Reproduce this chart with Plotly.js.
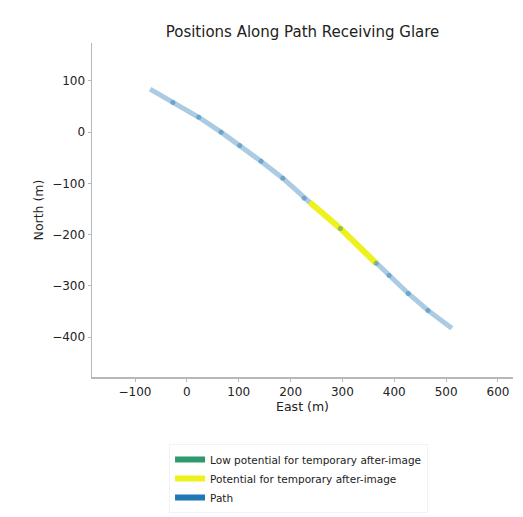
<!DOCTYPE html>
<html>
<head>
<meta charset="utf-8">
<script src="https://cdn.plot.ly/plotly-3.0.1.min.js"></script>
<style>html,body{margin:0;padding:0;background:#fff;}#chart{width:523px;height:517px;}</style>
</head>
<body>
<div id="chart"></div>
<script>
// Path vertices (East, North) in metres
const pathEast  = [-71, -27, 23, 66, 102, 143, 185, 226, 237, 296, 365, 390, 427, 465, 511];
const pathNorth = [84, 58, 29, 0, -26, -57, -90, -129, -137, -188, -256, -280, -315, -348, -383];
// Vertices where segment joints show
const jointEast  = [-27, 23, 66, 102, 143, 185, 226, 296, 365, 390, 427, 465];
const jointNorth = [58, 29, 0, -26, -57, -90, -129, -188, -256, -280, -315, -348];
// Glare segment: potential for temporary after-image
const glareEast  = [237, 296, 365];
const glareNorth = [-137, -188, -256];
// Glare segment: low potential (none)
const lowEast  = [null];
const lowNorth = [null];

const legendNames = ["Low potential for temporary after-image", "Potential for temporary after-image", "Path"];

const FONT = "DejaVu Sans, sans-serif";

const traces = [
  {x: pathEast, y: pathNorth, mode: "lines", line: {color: "rgba(31,119,180,0.38)", width: 5}, showlegend: false, hoverinfo: "skip"},
  {x: lowEast, y: lowNorth, mode: "lines", name: legendNames[0], line: {color: "#2e9a6c", width: 6}, legendrank: 1},
  {x: glareEast, y: glareNorth, mode: "lines", name: legendNames[1], line: {color: "#eef21c", width: 6}, legendrank: 2},
  {x: jointEast, y: jointNorth, mode: "markers", marker: {color: "rgba(31,119,180,0.45)", size: 5}, showlegend: false, hoverinfo: "skip"},
  {x: [null], y: [null], mode: "lines", name: legendNames[2], line: {color: "#1f77b4", width: 6}, legendrank: 3}
];

const axisCommon = {
  showgrid: false, zeroline: false, showline: true, linecolor: "#b8b8b8", linewidth: 1.5,
  ticks: "outside", ticklen: 3, tickcolor: "#b8b8b8", tickwidth: 1,
  tickfont: {family: FONT, size: 12, color: "#222"}, mirror: false
};

const layout = {
  width: 523, height: 517,
  margin: {l: 92, r: 10, t: 43, b: 140},
  paper_bgcolor: "#fff", plot_bgcolor: "#fff",
  title: {text: "Positions Along Path Receiving Glare", font: {family: FONT, size: 15, color: "#222"}, x: 0.5, xref: "paper", y: 1, yref: "paper", yanchor: "bottom", pad: {b: 6}},
  xaxis: Object.assign({}, axisCommon, {range: [-183, 629], tickvals: [-100, 0, 100, 200, 300, 400, 500, 600], title: {text: "East (m)", font: {family: FONT, size: 12.5, color: "#222"}, standoff: 4}}),
  yaxis: Object.assign({}, axisCommon, {range: [-478, 174], tickvals: [100, 0, -100, -200, -300, -400], title: {text: "North (m)", font: {family: FONT, size: 12.5, color: "#222"}, standoff: 6}}),
  showlegend: true,
  legend: {x: 0.183, xanchor: "left", yref: "container", y: 0.1412, yanchor: "top", orientation: "v", bgcolor: "#fff", bordercolor: "rgba(0,0,0,0.05)", borderwidth: 1, font: {family: FONT, size: 10.5, color: "#222"}, itemwidth: 30, tracegroupgap: 0, traceorder: "normal"}
};

Plotly.newPlot("chart", traces, layout, {displayModeBar: false, staticPlot: true});
</script>
</body>
</html>
